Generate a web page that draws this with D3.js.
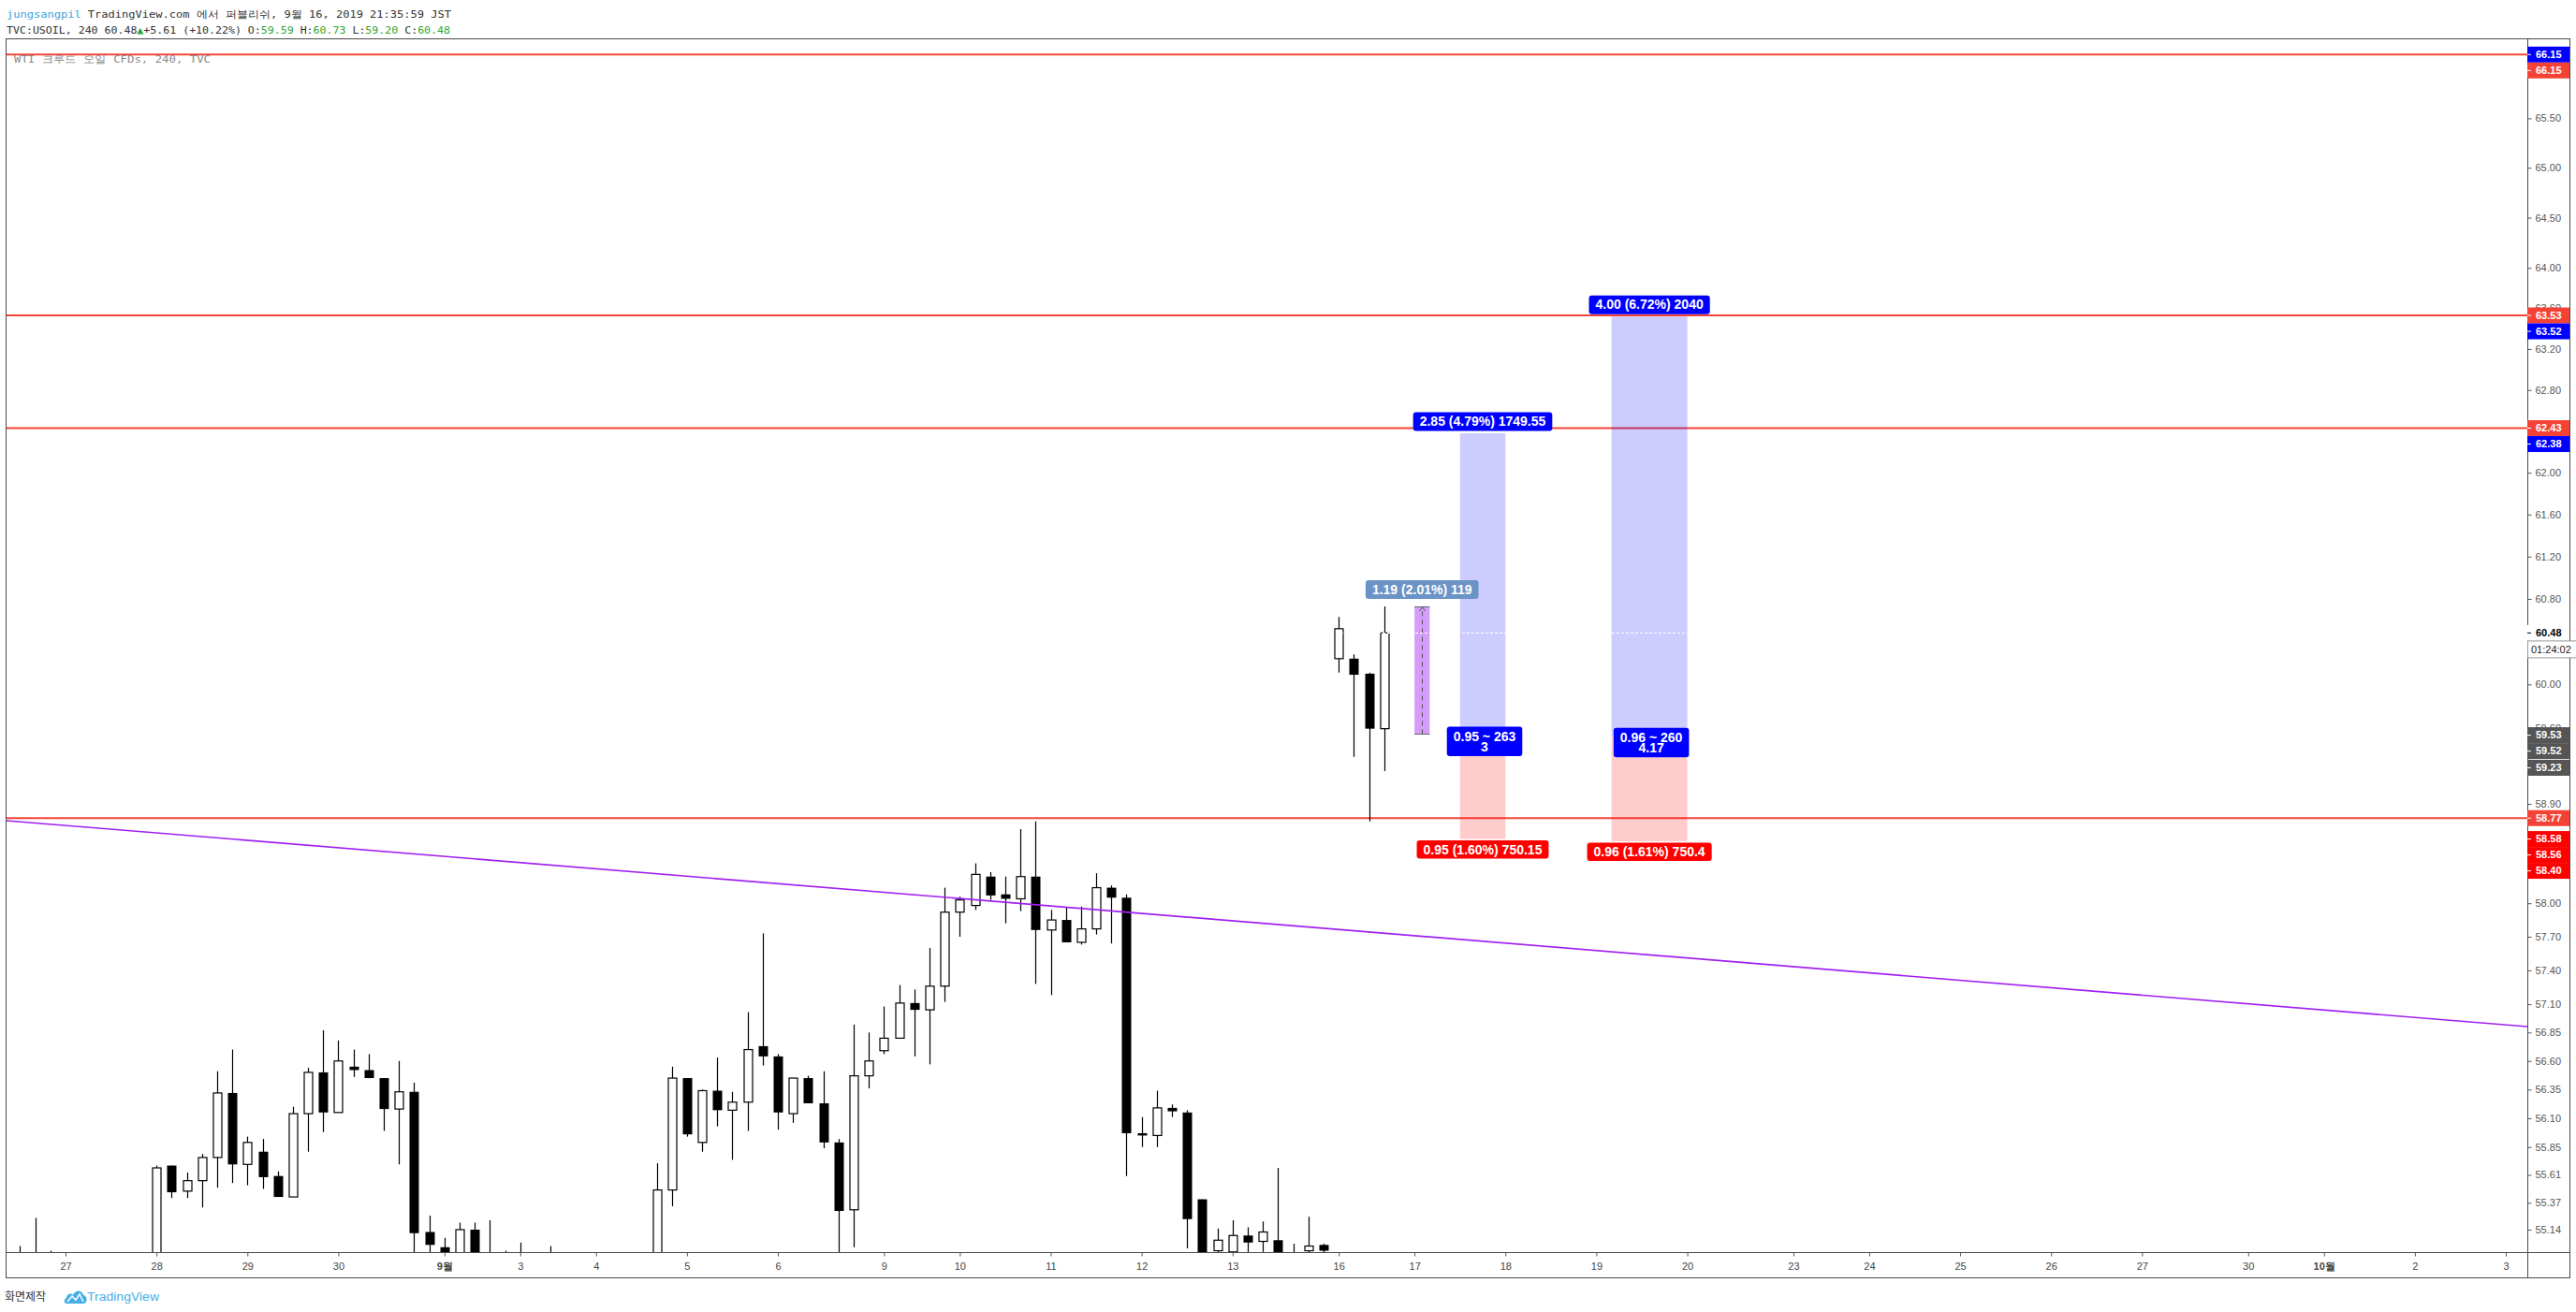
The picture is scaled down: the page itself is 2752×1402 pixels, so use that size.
<!DOCTYPE html>
<html>
<head>
<meta charset="utf-8">
<script src="https://cdn.jsdelivr.net/npm/d3@7"></script>
<style>
  body { margin: 0; background: #fff; }
  svg { display: block; }
</style>
</head>
<body>
<div id="chart"></div>
<script>
const width = 2752, height = 1402;
const plot = { left: 7, top: 42, right: 2700, bottom: 1338 };
const frameRight = 2745, frameBottom = 1365;

// time axis: bar index (4h bars, no weekend gaps) of the first bar of each day
const dayLabels = ["27","28","29","30","9월","3","4","5","6","9","10","11","12","13","16","17","18","19","20","23","24","25","26","27","30","10월","2","3"];
const dayBars   = [0,6,12,18,25,30,35,41,47,54,59,65,71,77,84,89,95,101,107,114,119,125,131,137,144,149,155,161];
const monthLabels = ["9월","10월"];

// right price axis ticks (log scale)
const priceTicks = [65.50,65.00,64.50,64.00,63.60,63.20,62.80,62.40,62.00,61.60,61.20,60.80,60.40,60.00,59.60,59.20,58.90,58.60,58.30,58.00,57.70,57.40,57.10,56.85,56.60,56.35,56.10,55.85,55.61,55.37,55.14];

// USOIL 4h candles: [bar, open, high, low, close]
const candles = [
  [-3,54.85,55.00,54.70,54.90],[-2,54.90,55.24,54.70,54.85],[-1,54.85,54.96,54.70,54.80],
  [6,54.80,55.69,54.70,55.67],[7,55.69,55.69,55.41,55.46],[8,55.47,55.63,55.41,55.56],
  [9,55.56,55.79,55.33,55.76],[10,55.76,56.51,55.50,56.32],[11,56.32,56.70,55.54,55.70],
  [12,55.70,55.94,55.52,55.89],[13,55.81,55.92,55.49,55.59],[14,55.60,55.64,55.42,55.42],
  [15,55.42,56.20,55.42,56.14],[16,56.14,56.54,55.81,56.50],[17,56.50,56.87,55.98,56.15],
  [18,56.15,56.78,56.15,56.60],[19,56.55,56.70,56.46,56.52],[20,56.52,56.66,56.45,56.45],
  [21,56.45,56.45,55.99,56.18],[22,56.18,56.60,55.70,56.33],[23,56.33,56.41,54.80,55.11],
  [24,55.12,55.26,54.85,55.01],[25,54.99,55.07,54.80,54.88],[26,54.90,55.20,54.85,55.14],
  [27,55.14,55.20,54.70,54.85],[28,54.85,55.22,54.70,54.80],[29,54.80,54.96,54.70,54.75],
  [30,54.80,55.03,54.70,54.85],[32,54.80,55.00,54.70,54.85],
  [39,54.80,55.71,54.70,55.48],[40,55.48,56.55,55.34,56.45],[41,56.45,56.45,55.94,55.96],
  [42,55.89,56.35,55.81,56.34],[43,56.34,56.63,56.03,56.17],[44,56.17,56.33,55.74,56.24],
  [45,56.24,57.03,55.99,56.70],[46,56.73,57.73,56.56,56.64],[47,56.64,56.66,56.00,56.15],
  [48,56.14,56.45,56.06,56.45],[49,56.45,56.47,56.23,56.23],[50,56.23,56.51,55.84,55.89],
  [51,55.89,55.92,54.80,55.30],[52,55.31,56.92,54.99,56.47],[53,56.47,56.85,56.36,56.60],
  [54,56.69,57.08,56.66,56.80],[55,56.80,57.27,56.80,57.11],[56,57.11,57.23,56.64,57.05],
  [57,57.05,57.60,56.57,57.26],[58,57.26,58.14,57.12,57.92],[59,57.92,58.06,57.70,58.03],
  [60,57.98,58.36,57.94,58.26],[61,58.24,58.28,58.03,58.07],[62,58.08,58.24,57.82,58.04],
  [63,58.04,58.67,57.93,58.24],[64,58.24,58.74,57.28,57.76],[65,57.76,57.94,57.18,57.85],
  [66,57.85,57.96,57.65,57.65],[67,57.65,57.97,57.63,57.77],[68,57.77,58.27,57.72,58.14],
  [69,58.14,58.16,57.64,58.05],[70,58.05,58.08,55.60,55.97],[71,55.97,56.11,55.85,55.95],
  [72,55.95,56.34,55.85,56.19],[73,56.19,56.22,56.11,56.16],[74,56.15,56.17,54.98,55.23],
  [75,55.40,55.40,54.80,54.85],[76,54.96,55.15,54.90,55.05],[77,54.95,55.22,54.90,55.09],
  [78,55.09,55.16,54.95,55.03],[79,55.04,55.21,54.95,55.12],[80,55.05,55.67,54.85,54.93],
  [81,54.90,55.02,54.85,54.92],[82,54.96,55.25,54.90,55.00],[83,55.01,55.02,54.90,54.96],
  [84,60.24,60.63,60.11,60.52],[85,60.24,60.28,59.33,60.09],[86,60.10,60.11,58.74,59.59],
  [87,59.59,60.73,59.20,60.48]
];
const lastPrice = 60.48;

// drawings
const levelLines = [66.15, 63.53, 62.43, 58.77];
const trendAnchors = [[37.7, 58.28], [67.3, 57.95]];
const priceRange = { from: 89, to: 90, low: 59.54, high: 60.73, text: "1.19 (2.01%) 119" };
const positions = [
  { from: 92, to: 95, entry: 59.53, target: 62.38, stop: 58.58,
    top: "2.85 (4.79%) 1749.55", mid: ["0.95 ~ 263", "3"], bottom: "0.95 (1.60%) 750.15" },
  { from: 102, to: 107, entry: 59.52, target: 63.52, stop: 58.56,
    top: "4.00 (6.72%) 2040", mid: ["0.96 ~ 260", "4.17"], bottom: "0.96 (1.61%) 750.4" }
];

// price-axis tags: [price, kind]
const axisTags = [[66.15,"blue"],[66.15,"line"],[63.53,"line"],[63.52,"blue"],[62.43,"line"],[62.38,"blue"],
  [59.53,"gray"],[59.52,"gray"],[59.23,"gray"],[58.77,"line"],[58.58,"stop"],[58.56,"stop"],[58.40,"stop"]];
const tagColors = { blue: "#0000ff", line: "#f44336", stop: "#ff0000", gray: "#555555" };

const svg = d3.select("#chart").append("svg")
  .attr("width", width).attr("height", height)
  .style("font-family", "'Liberation Sans', Arial, sans-serif");

svg.append("rect").attr("width", width).attr("height", height).attr("fill", "#fff");

const x = d3.scaleLinear().domain([0, 161]).range([70, 2677]);
const y = d3.scaleLog().domain([55.14, 66.15]).range([1314, 58.3]);

svg.append("defs").append("clipPath").attr("id", "plotClip").append("rect")
  .attr("x", plot.left).attr("y", plot.top)
  .attr("width", plot.right - plot.left).attr("height", plot.bottom - plot.top);

const g = svg.append("g").attr("clip-path", "url(#plotClip)");

// chart title inside the pane
svg.append("text")
  .attr("x", 15).attr("y", 66.5)
  .attr("fill", "#8a8a8a")
  .attr("textLength", 210).attr("lengthAdjust", "spacingAndGlyphs")
  .style("font-family", "'DejaVu Sans Mono', monospace").style("font-size", "11px")
  .text("WTI 크루드 오일 CFDs, 240, TVC");

// horizontal levels
g.append("g").selectAll("line").data(levelLines).join("line")
  .attr("x1", plot.left).attr("x2", plot.right)
  .attr("y1", d => y(d)).attr("y2", d => y(d))
  .attr("stroke", "#f44336").attr("stroke-width", 2);

// candles
const cg = g.append("g").selectAll("g").data(candles).join("g");
cg.append("line")
  .attr("x1", d => Math.round(x(d[0])) + 0.5).attr("x2", d => Math.round(x(d[0])) + 0.5)
  .attr("y1", d => y(d[2])).attr("y2", d => y(d[3]))
  .attr("stroke", "#000").attr("stroke-width", 1.2);
cg.append("rect")
  .attr("x", d => d[4] >= d[1] ? Math.round(x(d[0])) - 4 : Math.round(x(d[0])) - 4.5)
  .attr("width", d => d[4] >= d[1] ? 9 : 10)
  .attr("y", d => y(Math.max(d[1], d[4])))
  .attr("height", d => Math.max(1, y(Math.min(d[1], d[4])) - y(Math.max(d[1], d[4]))))
  .attr("fill", d => d[4] >= d[1] ? "#fff" : "#000")
  .attr("stroke", d => d[4] >= d[1] ? "#000" : "none")
  .attr("stroke-width", 1.2);

// trend line, extended across the pane
const [ta, tb] = trendAnchors.map(([i, p]) => [x(i), y(p)]);
const slope = (tb[1] - ta[1]) / (tb[0] - ta[0]);
g.append("line")
  .attr("x1", plot.left).attr("y1", ta[1] + (plot.left - ta[0]) * slope)
  .attr("x2", plot.right).attr("y2", ta[1] + (plot.right - ta[0]) * slope)
  .attr("stroke", "#a020f0").attr("stroke-width", 1.6);

// label box helper
function labelBox(parent, cx, yTop, lines, fill, h) {
  const lg = parent.append("g");
  const r = lg.append("rect").attr("fill", fill).attr("rx", 3);
  const t = lg.append("text").attr("text-anchor", "middle").attr("fill", "#fff")
    .style("font-size", "14px").style("font-weight", "bold");
  lines.forEach((s, k) => t.append("tspan").attr("x", cx)
    .attr("y", yTop + (lines.length > 1 ? 15 + k * 11.6 : 14.6)).text(s));
  const w = d3.max(t.selectAll("tspan").nodes(), n => n.getComputedTextLength()) + 14;
  r.attr("x", cx - w / 2).attr("y", yTop).attr("width", w).attr("height", h);
}

// long positions
const pg = svg.append("g");
positions.forEach(p => {
  const x0 = x(p.from), x1 = x(p.to), cx = (x0 + x1) / 2;
  g.append("rect").attr("x", x0).attr("width", x1 - x0)
    .attr("y", y(p.target)).attr("height", y(p.entry) - y(p.target))
    .attr("fill", "rgba(0,0,255,0.2)");
  g.append("rect").attr("x", x0).attr("width", x1 - x0)
    .attr("y", y(p.entry)).attr("height", y(p.stop) - y(p.entry))
    .attr("fill", "rgba(255,0,0,0.2)");
  p.cx = cx;
});

// price range measure
{
  const x0 = x(priceRange.from), x1 = x(priceRange.to), cx = Math.round((x0 + x1) / 2) + 0.5;
  const yt = y(priceRange.high), yb = y(priceRange.low);
  g.append("rect").attr("x", x0).attr("width", x1 - x0).attr("y", yt).attr("height", yb - yt)
    .attr("fill", "#d59cf9");
  g.selectAll(".rb").data([yt, yb]).join("line")
    .attr("x1", x0).attr("x2", x1).attr("y1", d => Math.round(d) + 0.5).attr("y2", d => Math.round(d) + 0.5)
    .attr("stroke", "#666");
  g.append("line").attr("x1", cx).attr("x2", cx).attr("y1", yb).attr("y2", yt + 1)
    .attr("stroke", "#555").attr("stroke-dasharray", "5,4");
  g.append("path").attr("d", `M${cx - 3},${yt + 5}L${cx},${yt + 1}L${cx + 3},${yt + 5}`)
    .attr("fill", "none").attr("stroke", "#555");
  labelBox(pg, (x0 + x1) / 2, yt - 28, [priceRange.text], "#6b93c6", 20);
}

// current price line (white dotted, shows only over filled areas)
g.append("line").attr("x1", plot.left).attr("x2", plot.right)
  .attr("y1", Math.round(y(lastPrice)) + 0.5).attr("y2", Math.round(y(lastPrice)) + 0.5)
  .attr("stroke", "#fff").attr("stroke-dasharray", "3,2");

positions.forEach(p => {
  labelBox(pg, p.cx, y(p.target) - 22.5, [p.top], "#0000ff", 20);
  labelBox(pg, p.cx + 2, y(p.entry) - 9, p.mid, "#0000ff", 31.5);
  labelBox(pg, p.cx, y(p.stop) + 1.5, [p.bottom], "#ff0000", 19.5);
});

// frame
const fg = svg.append("g").attr("stroke", "#4a4a4a").attr("fill", "none");
fg.append("rect").attr("x", plot.left - 0.5).attr("y", plot.top - 0.5)
  .attr("width", frameRight - plot.left + 1).attr("height", frameBottom - plot.top + 1);
fg.append("line").attr("x1", plot.right + 0.5).attr("x2", plot.right + 0.5).attr("y1", plot.top).attr("y2", frameBottom);
fg.append("line").attr("x1", plot.left).attr("x2", frameRight).attr("y1", plot.bottom + 0.5).attr("y2", plot.bottom + 0.5);

// right price axis
const yAxis = svg.append("g").attr("transform", `translate(${plot.right + 0.5},0)`)
  .call(d3.axisRight(y).tickValues(priceTicks).tickFormat(d3.format(".2f")).tickSize(4).tickPadding(4));
yAxis.select(".domain").remove();
yAxis.selectAll("line").attr("stroke", "#555");
yAxis.selectAll("text").attr("fill", "#555").style("font-size", "11px")
  .style("font-family", "'Liberation Sans', Arial, sans-serif");

// bottom time axis
const xAxis = svg.append("g").attr("transform", `translate(0,${plot.bottom + 0.5})`)
  .call(d3.axisBottom(x).tickValues(dayBars).tickFormat((d, k) => dayLabels[k]).tickSize(4).tickPadding(7));
xAxis.select(".domain").remove();
xAxis.selectAll("line").attr("stroke", "#555");
xAxis.selectAll("text").attr("fill", "#444").style("font-size", "11px")
  .style("font-family", "'Liberation Sans', Arial, sans-serif")
  .style("font-weight", (d, k) => monthLabels.includes(dayLabels[k]) ? "bold" : null);

// coloured tags on the price axis, stacked so they do not overlap
const tags = axisTags.map(([p, kind]) => ({ p, kind, yy: y(p) })).sort((a, b) => a.yy - b.yy);
for (let k = 1; k < tags.length; k++) {
  if (tags[k].yy < tags[k - 1].yy + 17) tags[k].yy = tags[k - 1].yy + 17;
}
const tg = svg.append("g").selectAll("g").data(tags).join("g")
  .attr("transform", d => `translate(${plot.right},${d.yy})`);
tg.append("rect").attr("x", 0).attr("y", -8.5).attr("width", frameRight - plot.right).attr("height", 17)
  .attr("fill", d => tagColors[d.kind]);
tg.append("line").attr("x1", 0).attr("x2", 4).attr("stroke", "#fff");
tg.append("text").attr("x", 9).attr("dy", "0.35em").attr("fill", "#fff")
  .style("font-size", "11px").style("font-weight", "bold").text(d => d.p.toFixed(2));

// last price tag and bar countdown
{
  const yy = y(lastPrice);
  const lp = svg.append("g").attr("transform", `translate(${plot.right},${yy})`);
  lp.append("rect").attr("x", 0).attr("y", -8.5).attr("width", frameRight - plot.right).attr("height", 17).attr("fill", "#fff");
  lp.append("line").attr("x1", 0).attr("x2", 4).attr("stroke", "#000");
  lp.append("text").attr("x", 9).attr("dy", "0.35em").attr("fill", "#000")
    .style("font-size", "11px").style("font-weight", "bold").text(lastPrice.toFixed(2));
  lp.append("rect").attr("x", 0.5).attr("y", 8.5).attr("width", 60).attr("height", 18)
    .attr("fill", "#fff").attr("stroke", "#999");
  lp.append("text").attr("x", 4).attr("y", 17.5).attr("dy", "0.35em").attr("fill", "#222")
    .style("font-size", "11px").text("01:24:02");
}

// header
const hdr = svg.append("g").style("font-family", "'DejaVu Sans Mono', monospace").style("font-size", "11px");
const h1 = hdr.append("text").attr("x", 7).attr("y", 18.5).attr("textLength", 475).attr("lengthAdjust", "spacingAndGlyphs");
h1.append("tspan").attr("fill", "#3ca3e0").text("jungsangpil");
h1.append("tspan").attr("fill", "#333").text(" TradingView.com 에서 퍼블리쉬, 9월 16, 2019 21:35:59 JST");
const h2 = hdr.append("text").attr("x", 7).attr("y", 35.5).attr("textLength", 474).attr("lengthAdjust", "spacingAndGlyphs");
const green = "#2fa52f";
[["TVC:USOIL, 240 60.48", "#333"], ["▲", green], ["+5.61 (+10.22%) O:", "#333"], ["59.59", green],
 [" H:", "#333"], ["60.73", green], [" L:", "#333"], ["59.20", green], [" C:", "#333"], ["60.48", green]]
  .forEach(([s, c]) => h2.append("tspan").attr("fill", c).text(s));

// footer
svg.append("text").attr("x", 5).attr("y", 1390).attr("fill", "#333")
  .style("font-family", "'Noto Sans CJK KR', sans-serif").style("font-size", "12px").text("화면제작");
const logo = svg.append("g").attr("transform", "translate(69,1377)");
logo.append("path")
  .attr("d", "M2,16 C-1,16 -1,11 2,10 C2,6 7,4 9,7 C11,1 19,1 20,7 C24,7 25,15 21,16 Z")
  .attr("fill", "#44aee8");
logo.append("path").attr("d", "M3,14 L8,8 L12,12 L16,6 L20,14")
  .attr("fill", "none").attr("stroke", "#fff").attr("stroke-width", 1.5);
svg.append("text").attr("x", 93).attr("y", 1390).attr("fill", "#44aee8")
  .attr("textLength", 77).attr("lengthAdjust", "spacingAndGlyphs")
  .style("font-size", "12px").text("TradingView");
</script>
</body>
</html>
